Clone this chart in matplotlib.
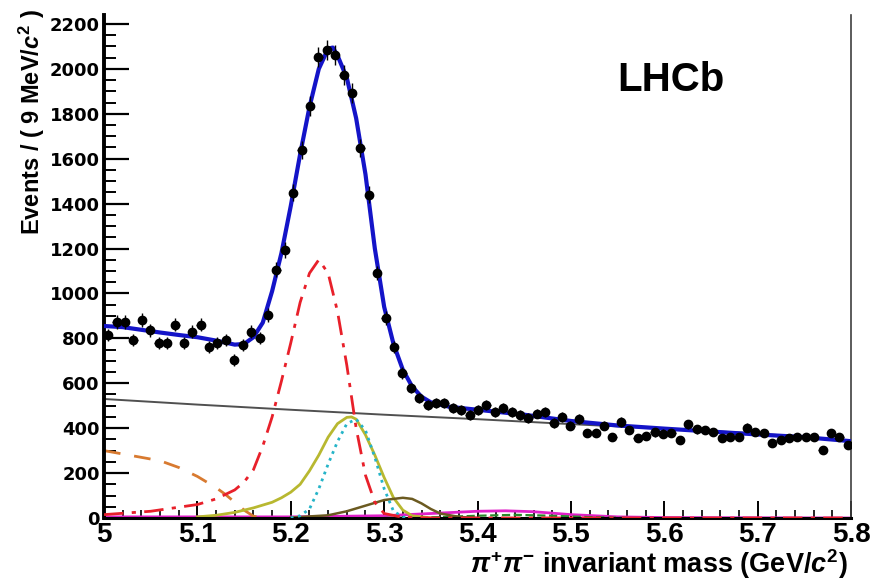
# LHCb pi+pi- invariant mass fit, redrawn with matplotlib
import numpy as np
import matplotlib
matplotlib.use("Agg")
import matplotlib.pyplot as plt

# ---------------------------
# Data
# ---------------------------
bin_lo = 5.0
bin_width = 0.009
counts = [815, 873, 873, 793, 882, 837, 780, 780, 860, 780,
          829, 860, 762, 780, 793, 704, 770, 829, 802, 904,
          1105, 1194, 1448, 1639, 1835, 2053, 2085, 2062, 1973, 1893,
          1648, 1439, 1091, 891, 762, 646, 579, 535, 503, 512,
          512, 490, 481, 459, 481, 503, 472, 490, 472, 459,
          445, 465, 472, 423, 450, 410, 440, 379, 379, 410,
          361, 428, 392, 356, 365, 381, 375, 379, 347, 418,
          396, 392, 383, 356, 361, 361, 401, 383, 379, 334,
          347, 356, 361, 361, 361, 303, 379, 361, 325]

# total fit (blue)
fit_x = [5.00, 5.02, 5.04, 5.06, 5.08, 5.10, 5.12, 5.14, 5.15, 5.16,
         5.17, 5.18, 5.19, 5.20, 5.21, 5.22, 5.23, 5.24, 5.245, 5.25,
         5.26, 5.27, 5.28, 5.29, 5.30, 5.31, 5.32, 5.33, 5.34, 5.35,
         5.37, 5.40, 5.45, 5.50, 5.55, 5.60, 5.65, 5.70, 5.75, 5.80]
fit_y = [855, 850, 838, 826, 815, 805, 790, 772, 775, 805,
         870, 1010, 1180, 1390, 1620, 1830, 2000, 2090, 2095, 2060,
         1960, 1780, 1530, 1200, 940, 775, 660, 585, 540, 515,
         495, 482, 460, 432, 412, 398, 385, 372, 360, 342]

# combinatorial background (grey)
comb_x = [5.0, 5.1, 5.2, 5.3, 5.4, 5.5, 5.6, 5.7, 5.8]
comb_y = [530, 505, 482, 460, 440, 418, 398, 376, 345]

# misidentified peak (red dash-dot)
misid_x = [5.00, 5.05, 5.10, 5.12, 5.14, 5.15, 5.16, 5.17, 5.18, 5.19,
           5.20, 5.21, 5.22, 5.23, 5.24, 5.25, 5.26, 5.27, 5.28, 5.29,
           5.30, 5.32, 5.35, 5.80]
misid_y = [15, 30, 60, 85, 125, 160, 215, 320, 450, 610,
           780, 960, 1090, 1150, 1090, 920, 680, 400, 190, 70,
           20, 3, 0, 0]

# partially reconstructed (orange dashed)
part_x = [5.00, 5.02, 5.04, 5.06, 5.08, 5.10, 5.12, 5.13, 5.14, 5.15, 5.16, 5.17]
part_y = [300, 285, 270, 255, 225, 185, 135, 105, 70, 35, 8, 0]

# yellow-green solid
yel_x = [5.10, 5.12, 5.14, 5.16, 5.18, 5.19, 5.20, 5.21, 5.22, 5.23,
         5.24, 5.25, 5.26, 5.265, 5.27, 5.28, 5.29, 5.30, 5.31, 5.32,
         5.33, 5.35]
yel_y = [5, 12, 25, 45, 70, 90, 115, 150, 210, 280,
         360, 420, 448, 450, 440, 370, 280, 180, 90, 35,
         10, 0]

# cyan dotted
cyan_x = [5.20, 5.21, 5.22, 5.23, 5.24, 5.25, 5.26, 5.27, 5.28, 5.29,
          5.30, 5.31, 5.32, 5.33]
cyan_y = [0, 10, 40, 130, 240, 340, 420, 440, 390, 270,
          130, 30, 5, 0]

# dark olive bump
olive_x = [5.20, 5.24, 5.26, 5.28, 5.30, 5.32, 5.33, 5.34, 5.35, 5.36, 5.38, 5.40]
olive_y = [2, 12, 30, 55, 80, 90, 85, 65, 40, 20, 5, 0]

# magenta
mag_x = [5.00, 5.20, 5.30, 5.35, 5.40, 5.43, 5.46, 5.50, 5.55, 5.60, 5.80]
mag_y = [5, 5, 10, 20, 30, 32, 28, 15, 5, 2, 0]

# green
grn_x = [5.30, 5.36, 5.40, 5.44, 5.48, 5.52, 5.56]
grn_y = [0, 4, 10, 14, 10, 4, 0]

# ---------------------------
# Fonts
# ---------------------------
plt.rcParams["font.family"] = ["Liberation Sans", "DejaVu Sans"]
plt.rcParams["font.weight"] = "bold"
plt.rcParams["mathtext.fontset"] = "custom"
plt.rcParams["mathtext.rm"] = "Liberation Sans:bold"
plt.rcParams["mathtext.bf"] = "Liberation Sans:bold"
plt.rcParams["mathtext.it"] = "Liberation Sans:italic:bold"

# ---------------------------
# Figure
# ---------------------------
fig = plt.figure(figsize=(8.72, 5.83), dpi=100)
ax = fig.add_axes([0.1193, 0.1115, 0.8567, 0.8628])

centers = bin_lo + bin_width * (np.arange(len(counts)) + 0.5)
counts = np.array(counts)

# components
ax.plot(comb_x, comb_y, color="#505050", lw=1.4, zorder=2)
ax.plot(mag_x, mag_y, color="#e020c8", lw=2.0, zorder=2)
ax.plot(grn_x, grn_y, color="#2a8a2a", lw=1.6, ls="--", zorder=2)
ax.plot(part_x, part_y, color="#d87a30", lw=2.0, ls=(0, (6, 5)), zorder=2)
ax.plot(yel_x, yel_y, color="#b8b830", lw=2.0, zorder=2)
ax.plot(olive_x, olive_y, color="#6b5a20", lw=1.8, zorder=2)
ax.plot(cyan_x, cyan_y, color="#25b4c8", lw=2.0, ls=":", zorder=3)
ax.plot(misid_x, misid_y, color="#e8202a", lw=2.0, ls=(0, (7, 3, 1.5, 3)), zorder=3)

# total fit
ax.plot(fit_x, fit_y, color="#1414c8", lw=3.0, zorder=4)

# data
ax.errorbar(centers, counts, yerr=np.sqrt(counts), xerr=bin_width / 2,
            fmt="o", color="black", ms=6, elinewidth=1.0, capsize=0, zorder=5)

ax.set_xlim(5.0, 5.8)
ax.set_ylim(0, 2240)

# axes frame like ROOT
ax.spines["top"].set_visible(False)
ax.spines["left"].set_linewidth(2.8)
ax.spines["bottom"].set_linewidth(2.2)
ax.spines["right"].set_linewidth(1.2)
ax.spines["right"].set_color("#404040")

ax.set_xticks(np.arange(5.0, 5.81, 0.1))
ax.set_xticks(np.arange(5.0, 5.81, 0.02), minor=True)
ax.set_yticks(np.arange(0, 2201, 200))
ax.set_yticks(np.arange(0, 2201, 50), minor=True)
ax.set_xticklabels(["5", "5.1", "5.2", "5.3", "5.4", "5.5", "5.6", "5.7", "5.8"])

ax.tick_params(axis="y", which="major", direction="in", length=18, width=1.6,
               pad=3, labelsize=13)
ax.tick_params(axis="y", which="minor", direction="in", length=8.5, width=1.4)
ax.tick_params(axis="x", which="major", direction="in", length=12, width=1.4,
               pad=3, labelsize=20)
ax.tick_params(axis="x", which="minor", direction="in", length=6, width=1.2)
ax.tick_params(right=False, top=False, which="both")

for lab in ax.get_yticklabels():
    lab.set_fontfamily("DejaVu Sans")
    lab.set_fontweight("bold")
for lab in ax.get_xticklabels():
    lab.set_fontweight("bold")

# titles
fig.text(0.037, 1 - 9 / 583, r"Events / ( 9 MeV/$c^{2}$ )", rotation=90,
         ha="center", va="top", fontsize=17, fontweight="bold")
fig.text(848 / 872, 1 - 581 / 583, r"$\pi^{+}\pi^{-}$ invariant mass (GeV/$c^{2}$)",
         ha="right", va="bottom", fontsize=19.5, fontweight="bold")
fig.text(617 / 872, 1 - 91 / 583, "LHCb", ha="left", va="baseline",
         fontsize=29, fontweight="bold")

fig.savefig("out.png", dpi=100)
